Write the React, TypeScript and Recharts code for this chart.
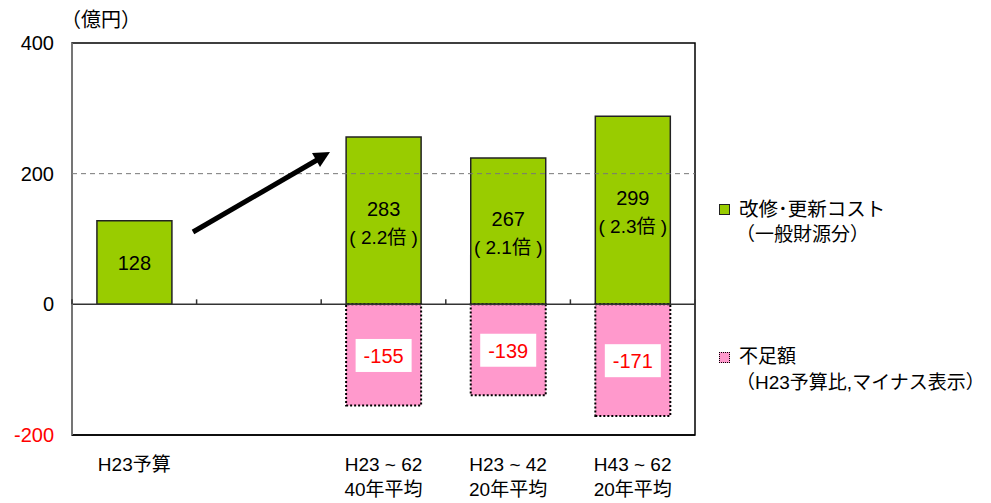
import { BarChart, Bar, XAxis, YAxis, ReferenceLine, ReferenceArea, LabelList } from "recharts";

const categories = ["H23予算", "", "H23 ~ 62", "H23 ~ 42", "H43 ~ 62"];
const periods = ["", "", "40年平均", "20年平均", "20年平均"];
const renewalCost = [128, null, 256, 224, 288];
const costLabels = ["128", "", "283", "267", "299"];
const ratioLabels = ["", "", "( 2.2倍 )", "( 2.1倍 )", "( 2.3倍 )"];
const shortfall = [null, null, -155, -139, -171];
const yTicks = [-200, 0, 200, 400];

const FONT = '"Liberation Sans", Arial, "Noto Sans CJK JP", sans-serif';
const W = 991;
const H = 503;
const MARGIN = { top: 43, right: 296, bottom: 0, left: 12 };
const Y_AXIS_W = 60;
const X_AXIS_H = 68;
const PLOT_LEFT = MARGIN.left + Y_AXIS_W;
const PLOT_W = W - PLOT_LEFT - MARGIN.right;
const PLOT_H = H - MARGIN.top - X_AXIS_H;
const BAND = PLOT_W / categories.length;
const ZERO_Y = MARGIN.top + (PLOT_H * 400) / 600;

const data = categories.map((name, i) => ({
  name,
  period: periods[i],
  cost: renewalCost[i],
  gap: shortfall[i],
}));

function YTick(props: any) {
  const { y, payload } = props;
  return (
    <text
      x={PLOT_LEFT - 18}
      y={y}
      dy={7}
      textAnchor="end"
      fontSize={20}
      fontFamily={FONT}
      fill={payload.value < 0 ? "#ff0000" : "#000"}
    >
      {payload.value}
    </text>
  );
}

function XTick(props: any) {
  const { x, y, payload, index } = props;
  const left = x - BAND / 2;
  return (
    <g>
      <line x1={left} x2={left} y1={ZERO_Y - 5} y2={ZERO_Y} stroke="#333" strokeWidth={1.5} />
      {index === categories.length - 1 && (
        <line x1={x + BAND / 2} x2={x + BAND / 2} y1={ZERO_Y - 5} y2={ZERO_Y} stroke="#333" />
      )}
      <text x={x} y={y + 28} textAnchor="middle" fontSize={19} fontFamily={FONT} fill="#000">
        {payload.value}
      </text>
      <text x={x} y={y + 53} textAnchor="middle" fontSize={19} fontFamily={FONT} fill="#000">
        {periods[index]}
      </text>
    </g>
  );
}

function CostLabel(props: any) {
  const { x, y, width, height, value } = props;
  const i = categories.indexOf(value);
  if (i < 0 || renewalCost[i] == null) return null;
  const cx = x + width / 2;
  const cy = y + height / 2;
  const ratio = ratioLabels[i];
  if (!ratio) {
    return (
      <text x={cx} y={cy + 7} textAnchor="middle" fontSize={20} fontFamily={FONT} fill="#000">
        {costLabels[i]}
      </text>
    );
  }
  return (
    <g>
      <text x={cx} y={cy - 5} textAnchor="middle" fontSize={20} fontFamily={FONT} fill="#000">
        {costLabels[i]}
      </text>
      <text x={cx} y={cy + 23} textAnchor="middle" fontSize={19} fontFamily={FONT} fill="#000">
        {ratio}
      </text>
    </g>
  );
}

function GapLabel(props: any) {
  const { x, y, width, height, value } = props;
  const i = categories.indexOf(value);
  if (i < 0 || shortfall[i] == null) return null;
  const cx = x + width / 2;
  const cy = y + height / 2;
  return (
    <g>
      <rect x={cx - 28} y={cy - 16} width={56} height={33} fill="#fff" />
      <text x={cx} y={cy + 8} textAnchor="middle" fontSize={20} fontFamily={FONT} fill="#ff0000">
        {shortfall[i]}
      </text>
    </g>
  );
}

function Arrow() {
  return (
    <svg width={W} height={H} style={{ position: "absolute", left: 0, top: 0, pointerEvents: "none" }}>
      <line x1={193} y1={232} x2={317} y2={160} stroke="#000" strokeWidth={5} />
      <polygon points="330,152 320,167 312,153" fill="#000" />
    </svg>
  );
}

function Legend() {
  const text: React.CSSProperties = {
    position: "absolute",
    fontFamily: FONT,
    fontSize: 19,
    color: "#000",
    whiteSpace: "nowrap",
    lineHeight: "24px",
  };
  return (
    <>
      <div style={{ ...text, left: 61, top: 8, fontSize: 20 }}>（億円）</div>
      <div
        style={{
          position: "absolute",
          left: 719,
          top: 204,
          width: 9,
          height: 9,
          background: "#99cc00",
          border: "1px solid #222",
        }}
      />
      <div style={{ ...text, left: 739, top: 197, fontSize: 19.5 }}>改修･更新コスト</div>
      <div style={{ ...text, left: 736, top: 223 }}>（一般財源分）</div>
      <div
        style={{
          position: "absolute",
          left: 719,
          top: 352,
          width: 9,
          height: 9,
          background: "#ff99cc",
          border: "1px dotted #000",
        }}
      />
      <div style={{ ...text, left: 739, top: 345 }}>不足額</div>
      <div style={{ ...text, left: 736, top: 371 }}>（H23予算比,マイナス表示）</div>
    </>
  );
}

export default function App() {
  return (
    <div style={{ position: "absolute", left: 0, top: 0, width: W, height: H, background: "#fff" }}>
      <BarChart width={W} height={H} data={data} margin={MARGIN} stackOffset="sign" barCategoryGap="20%">
        <ReferenceArea y1={-200} y2={400} fill="none" stroke="#000" strokeWidth={1.5} />
        <ReferenceLine y={200} stroke="#777" strokeDasharray="5 4" />
        <XAxis
          dataKey="name"
          height={X_AXIS_H}
          axisLine={{ stroke: "#000", strokeWidth: 1.5 }}
          tickLine={false}
          tick={<XTick />}
          interval={0}
        />
        <YAxis
          width={Y_AXIS_W}
          domain={[-200, 400]}
          ticks={yTicks}
          allowDataOverflow
          axisLine={{ stroke: "#888", strokeWidth: 1.5 }}
          tickLine={false}
          tick={<YTick />}
        />
        <Bar dataKey="cost" stackId="a" fill="#99cc00" stroke="#222" strokeWidth={1.5} isAnimationActive={false}>
          <LabelList dataKey="name" content={<CostLabel />} />
        </Bar>
        <Bar
          dataKey="gap"
          stackId="a"
          fill="#ff99cc"
          stroke="#000"
          strokeWidth={2}
          strokeDasharray="2 2"
          isAnimationActive={false}
        >
          <LabelList dataKey="name" content={<GapLabel />} />
        </Bar>
        <ReferenceLine y={0} stroke="#333" strokeWidth={1.5} />
      </BarChart>
      <Arrow />
      <Legend />
    </div>
  );
}
